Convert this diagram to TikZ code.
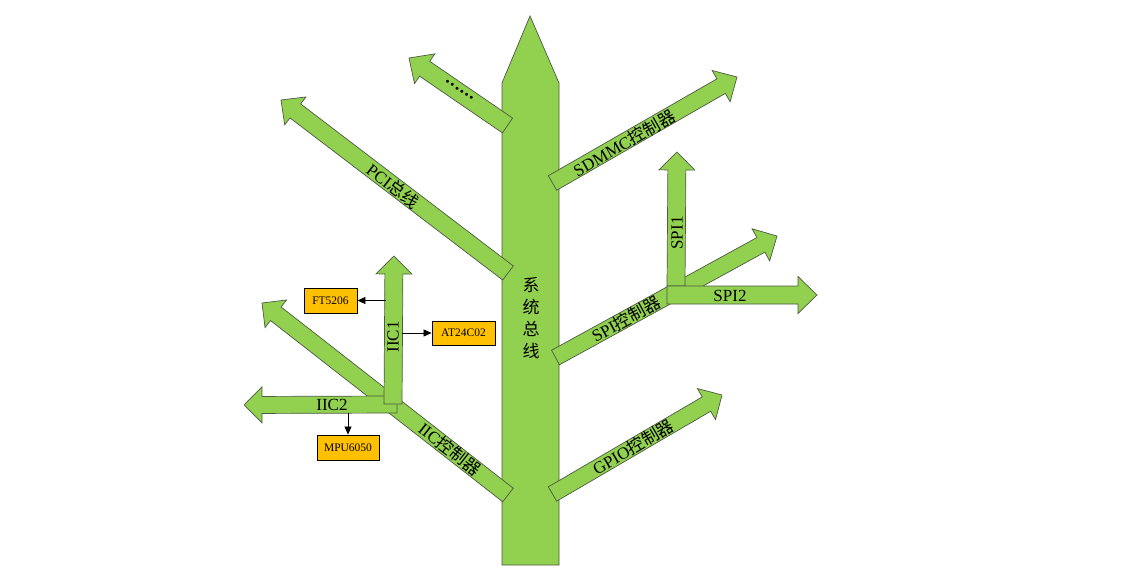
\documentclass[tikz,border=0pt]{standalone}
\usepackage{fontspec}
\setmainfont{Liberation Serif}
\newfontfamily\cjk{Noto Sans CJK SC}
\usetikzlibrary{calc,arrows.meta}
\definecolor{leaf}{HTML}{92D050}
\definecolor{leafline}{HTML}{4D5A44}
\definecolor{chip}{HTML}{FFC000}
\tikzset{
  branch/.style={fill=leaf,draw=leafline,line width=0.7pt,line join=miter},
  lbl/.style={font=\fontsize{17}{20}\selectfont,inner sep=0pt},
  chipbox/.style={fill=chip,draw=black,line width=0.9pt,inner sep=0pt,font=\fontsize{11.5}{12}\selectfont},
  conn/.style={draw=black,line width=0.8pt,-{Triangle[length=8pt,width=7pt]}}
}
% tail, tip, half shaft width, half head width, head length
\newcommand\fatarrow[5]{%
  \coordinate (fa-t) at #1; \coordinate (fa-p) at #2;
  \coordinate (fa-h) at ($(fa-p)!#5!(fa-t)$);
  \path[branch] ($(fa-t)!#3!90:(fa-p)$) -- ($(fa-h)!#3!90:(fa-p)$) -- ($(fa-h)!#4!90:(fa-p)$)
    -- (fa-p) -- ($(fa-h)!#4!-90:(fa-p)$) -- ($(fa-h)!#3!-90:(fa-p)$) -- ($(fa-t)!#3!-90:(fa-p)$) -- cycle;
}
\begin{document}
\begin{tikzpicture}[x=1pt,y=-1pt]
\useasboundingbox[fill=white] (0,0) rectangle (1126,585);
% trunk
\path[branch] (502,565) -- (502,83) -- (530,16) -- (559,83) -- (559,565) -- cycle;
% left branches
\fatarrow{(507.5,125.5)}{(409,58)}{9pt}{18pt}{19pt}
\fatarrow{(508,273)}{(281,100)}{8.8pt}{17.5pt}{18pt}
\fatarrow{(508,495)}{(262,303)}{8.6pt}{17.5pt}{17.5pt}
% right branches
\fatarrow{(552.5,183)}{(737,77)}{8.4pt}{18pt}{18.3pt}
\fatarrow{(555.5,357.5)}{(777,236)}{8.3pt}{18.3pt}{18.4pt}
\fatarrow{(552.5,494)}{(722,395)}{8.3pt}{18pt}{18pt}
% SPI sub-branches
\fatarrow{(676,286)}{(677,152)}{9pt}{18pt}{18pt}
\fatarrow{(667,295)}{(817,295)}{9pt}{18.5pt}{19pt}
% IIC sub-branches
\fatarrow{(397,404.5)}{(244,405)}{8.5pt}{18pt}{18pt}
\fatarrow{(393,404)}{(394,256)}{9pt}{18pt}{18pt}

% labels
\node[lbl,align=center,font=\cjk\fontsize{17}{22}\selectfont] (trunk) at (531,318) {系\\统\\总\\线};
\node[lbl,font=\bfseries\fontsize{18}{20}\selectfont,rotate=-34.4] (dots) at (459.5,90) {.\kern1.3pt.\kern1.3pt.\kern1.3pt.\kern1.3pt.\kern1.3pt.};
\node[lbl,rotate=-37.3] (pci) at (393,186) {PCI{\cjk 总线}};
\node[lbl,rotate=29.9] (sdmmc) at (624,143) {SDMMC{\cjk 控制器}};
\node[lbl,rotate=28.7] (spi) at (626,319) {SPI{\cjk 控制器}};
\node[lbl,rotate=30.3] (gpio) at (633,447) {GPIO{\cjk 控制器}};
\node[lbl,rotate=-38] (iic) at (450,449) {IIC{\cjk 控制器}};
\node[lbl,rotate=90] (spi1) at (677,233) {SPI1};
\node[lbl] (spi2) at (730,296) {SPI2};
\node[lbl,rotate=90] (iic1) at (393,337) {IIC1};
\node[lbl] (iic2) at (332,405) {IIC2};

% chips
\node[chipbox,minimum width=53pt,minimum height=25pt] (ft) at (330.5,300.5) {FT5206};
\node[chipbox,minimum width=63pt,minimum height=24pt] (at) at (463.5,333) {AT24C02};
\node[chipbox,minimum width=62pt,minimum height=25pt] (mpu) at (348,447.5) {MPU6050};

\coordinate (iic1l) at (386,300.5);
\coordinate (iic1r) at (402,333);
\coordinate (iic2b) at (348,413);
\draw[conn] (iic1l) -- (ft.east);
\draw[conn] (iic1r) -- (at.west);
\draw[conn] (iic2b) -- (mpu.north);
\end{tikzpicture}
\end{document}
